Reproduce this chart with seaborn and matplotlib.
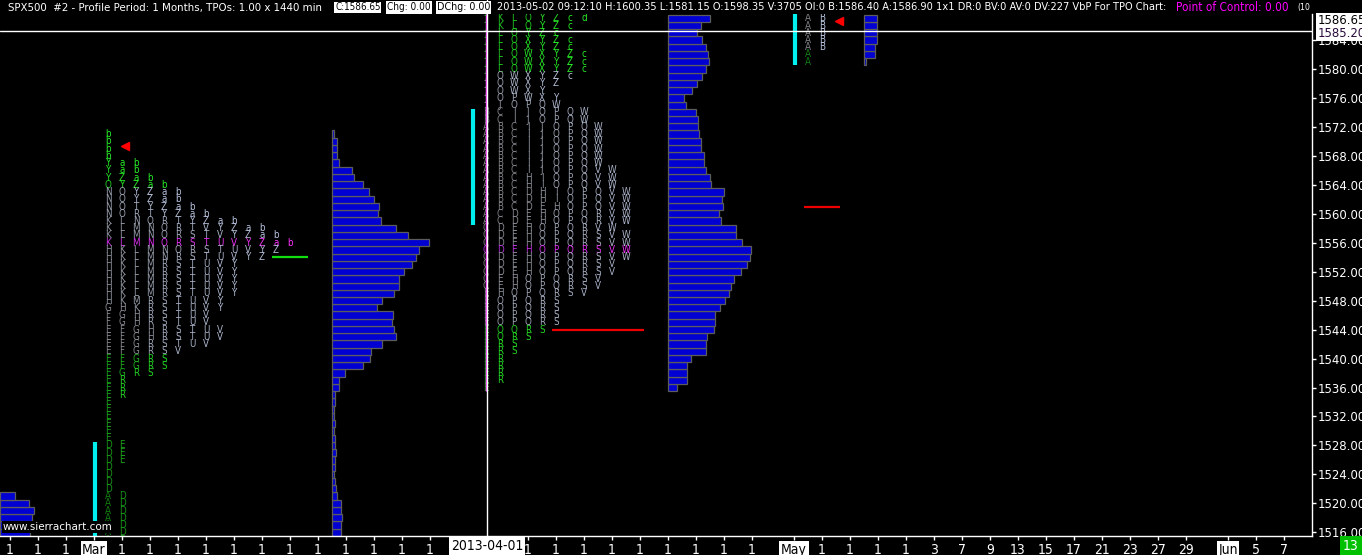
import numpy as np
import pandas as pd
import seaborn as sns
from matplotlib import pyplot as plt
from matplotlib import font_manager as fm
from matplotlib.colors import to_rgb
from matplotlib.lines import Line2D
from matplotlib.transforms import blended_transform_factory

#####################################################################################
# data

# TPO periods (one letter per trading day, letter = day of month): low / high
mar_letters = ['A', 'D', 'E', 'F', 'G', 'H', 'K', 'L', 'M', 'N', 'O', 'R', 'S', 'T', 'U', 'V', 'Y', 'Z', 'a', 'b']
mar_low = [1501, 1513, 1526, 1539, 1538, 1543, 1547, 1549, 1548, 1554, 1555, 1535, 1538, 1542, 1542, 1541, 1547, 1554, 1556, 1556]
mar_high = [1521, 1528, 1544, 1546, 1547, 1555, 1559, 1559, 1558, 1563, 1564, 1560, 1557, 1561, 1556, 1558, 1567, 1565, 1567, 1571]

apr_letters = ['A', 'B', 'C', 'D', 'E', 'H', 'I', 'J', 'K', 'L', 'O', 'P', 'Q', 'R', 'S', 'V', 'W', 'X', 'Y', 'Z', 'c', 'd']
apr_low = [1559, 1561, 1550, 1552, 1536, 1549, 1562, 1566, 1586, 1580, 1544, 1545, 1543, 1537, 1541, 1549, 1554, 1576, 1576, 1578, 1579, 1587]
apr_high = [1572, 1574, 1574, 1563, 1561, 1565, 1575, 1590, 1598, 1594, 1590, 1576, 1575, 1560, 1557, 1566, 1582, 1584, 1594, 1587, 1597, 1598]

may_letters = ['A', 'B']
may_low = [1581, 1583]
may_high = [1597, 1598]

# value area low / high and point of control (from the letter colours)
mar_va = (1541, 1563, 1556)
apr_va = (1545, 1579, 1555)
may_va = (1583, 1600, 1590)

# volume at price, top price first
feb_vp_top, feb_vp = 1521, [15, 29, 34, 32, 30, 30]
mar_vp_top = 1571
mar_vp = [2, 5, 5, 5, 7, 20, 22, 31, 37, 42, 47, 46, 49, 64, 76, 97, 87, 84, 80, 72,
          67, 67, 62, 50, 45, 61, 60, 62, 64, 50, 39, 38, 31, 13, 7, 7, 3,
          3, 2, 2, 3, 2, 3, 3, 4, 3, 3, 2, 3, 4, 5, 9, 9, 10, 9, 9]
apr_vp_top = 1587
apr_vp = [42, 33, 29, 34, 38, 40, 41, 38, 34, 29, 24, 16, 18, 28, 30, 30, 31, 33, 33, 36,
          36, 38, 42, 43, 56, 54, 55, 51, 53, 68, 68, 74, 83, 82, 79, 73, 66, 63, 61, 57,
          52, 47, 47, 46, 39, 38, 38, 23, 19, 19, 19, 9]
may_vp_top, may_vp = 1587, [13, 13, 13, 13, 11, 11, 2]

mar_close, may_close = 1569.4, 1586.65
mar_level, apr_level, may_level = 1554, 1544, 1561
cursor_price, last_price = 1585.20, 1586.65

xtick_pos = [0, 2, 4, 6, 8, 10, 12, 14, 16, 18, 20, 22, 24, 26, 28, 30,
             37, 39, 41, 43, 45, 47, 49, 51, 53,
             56, 58, 60, 62, 64, 66, 68, 70, 72, 74, 76, 78, 80, 82, 84, 87, 89, 91]
xtick_lab = ['1', '1', '1', 'Mar'] + ['1'] * 12 + ['1'] * 9 + \
            ['May', '1', '1', '1', '1', '3', '7', '9', '13', '15', '17', '21', '23', '27', '29', 'Jun', '5', '7']
ytick_vals = list(range(1516, 1588, 4))

#####################################################################################
# style

sns.set_theme(style='dark', rc={'axes.facecolor': 'black', 'figure.facecolor': 'black',
                                'savefig.facecolor': 'black'})
names = {f.name for f in fm.fontManager.ttflist}
NARROW = 'Liberation Sans Narrow' if 'Liberation Sans Narrow' in names else 'DejaVu Sans'
plt.rcParams['font.family'] = [NARROW, 'DejaVu Sans']
plt.rcParams['font.stretch'] = 'condensed'

W, H = 1362, 555
PPT = 7.24                          # pixels per price point
def px2col(px):
    return (px - 10) / 14.0

fig = plt.figure(figsize=(W / 100, H / 100), dpi=100)
ax = fig.add_axes([0, (H - 536) / H, 1312 / W, 522 / H])
y_top = 1584 + 26 / PPT
y_bot = 1584 - 496 / PPT

def mix(c0, c1, t):
    a, b = np.array(to_rgb(c0)), np.array(to_rgb(c1))
    return tuple(a + (b - a) * t)

def letter_color(p, k, n, va):
    t = k / max(n - 1, 1)
    lo, hi, poc = va
    if p == poc:
        return mix('#8a30c8', '#ff30ff', np.sqrt(t))
    if lo <= p <= hi:
        return mix('#7c7c80', '#b8c4e0', t)
    return mix('#127a12', '#28f028', np.sqrt(t))

def draw_letters(letters, lows, highs, start, va):
    counts = {}
    n = len(letters)
    for p in range(max(highs), min(lows) - 1, -1):
        col = 0
        for k, (L, lo, hi) in enumerate(zip(letters, lows, highs)):
            if lo <= p <= hi:
                if y_bot - 0.5 < p < y_top + 0.5:
                    ax.text(start + col, p, L, color=letter_color(p, k, n, va), fontsize=7.0,
                            ha='center', va='center', clip_on=True, zorder=2)
                col += 1
        counts[p] = col
    # initial balance = range of the first two periods
    ax.vlines(start - 0.93, min(lows[:2]) - 0.5, max(highs[:2]) + 0.5, color='#00f0f0', lw=3, zorder=2)
    return counts

VP_SCALE = 1 / 14.0
def draw_vp(top, vols, left):
    df = pd.DataFrame({'price': np.arange(top, top - len(vols), -1),
                       'vol': np.array(vols, float) * VP_SCALE})
    n0 = len(ax.patches)
    sns.barplot(data=df, x='vol', y='price', orient='y', native_scale=True, ax=ax,
                color='#0000d2', saturation=1, edgecolor='#5c5c5c', linewidth=0.9,
                width=1.0, errorbar=None, zorder=1)
    for patch in ax.patches[n0:]:
        patch.set_x(patch.get_x() + left)

#####################################################################################
# profiles

draw_vp(feb_vp_top, feb_vp, px2col(0))
draw_vp(mar_vp_top, mar_vp, 23)
draw_vp(apr_vp_top, apr_vp, 47)
draw_vp(may_vp_top, may_vp, 61)

mar_cnt = draw_letters(mar_letters, mar_low, mar_high, 7, mar_va)
apr_cnt = draw_letters(apr_letters, apr_low, apr_high, 34, apr_va)
may_cnt = draw_letters(may_letters, may_low, may_high, 57, may_va)

# close markers
ax.plot([7 + mar_cnt[round(mar_close)] + 0.2], [mar_close], marker='<', ms=5.5, color='red', ls='none', zorder=4)
ax.plot([57 + may_cnt[round(may_close)] + 0.2], [may_close], marker='<', ms=5.5, color='red', ls='none', zorder=4)

# level lines
ax.hlines(mar_level, 7 + mar_cnt.get(mar_level, 0) - 0.3, 7 + mar_cnt.get(mar_level, 0) + 2.3, color='#10e010', lw=1.6, zorder=3)
ax.hlines(apr_level, 34 + apr_cnt.get(apr_level, 0) - 0.3, 34 + apr_cnt.get(apr_level, 0) + 6.3, color='#ee0000', lw=1.6, zorder=3)
ax.hlines(may_level, 57 + may_cnt.get(may_level, 0) - 0.3, 57 + may_cnt.get(may_level, 0) + 2.3, color='#ee0000', lw=1.6, zorder=3)

# magenta marker line on april first column and the cursor
ax.vlines(px2col(485.5), min(apr_low) - 0.5, y_top, color='#ff40ff', lw=1, zorder=5)
ax.axhline(cursor_price, color='white', lw=1, zorder=6)
fig.add_artist(Line2D([487 / W, 487 / W], [1 - 540 / H, 1], color='white', lw=1, zorder=2))

#####################################################################################
# axes

ax.set_xlim(px2col(0), px2col(1312))
ax.set_ylim(y_bot, y_top)
ax.set_xlabel('')
ax.set_ylabel('')
ax.grid(False)
for s in ['top', 'left']:
    ax.spines[s].set_visible(False)
for s in ['right', 'bottom']:
    ax.spines[s].set_visible(True)
    ax.spines[s].set_color('white')
    ax.spines[s].set_linewidth(1)

ax.yaxis.tick_right()
ax.set_yticks(ytick_vals)
ax.set_yticklabels([f'{v:.2f}' for v in ytick_vals])
ax.set_xticks(xtick_pos)
ax.set_xticklabels(xtick_lab)
ax.tick_params(axis='both', colors='white', labelcolor='white', labelsize=10, length=3, width=1,
               direction='out', bottom=True, right=True, left=False)
ax.tick_params(axis='x', pad=2)
ax.tick_params(axis='y', labelsize=9.4, pad=1)
for lab in ax.get_xticklabels():
    if lab.get_text() in ('Mar', 'May', 'Jun'):
        lab.set_color('black')
        lab.set_bbox(dict(boxstyle='square,pad=0.12', fc='white', ec='none'))

trans = blended_transform_factory(ax.transAxes, ax.transData)
ax.text(1.004, last_price, f'{last_price:.2f}', transform=trans, fontsize=9.4, color='black',
        ha='left', va='center', clip_on=False, zorder=7,
        bbox=dict(boxstyle='square,pad=0.08', fc='white', ec='none'))
ax.text(1.004, cursor_price - 0.3, f'{cursor_price:.2f}', transform=trans, fontsize=9.4, color='#2a0a3a',
        ha='left', va='center', clip_on=False, zorder=8,
        bbox=dict(boxstyle='square,pad=0.08', fc='white', ec='none'))

fig.text(487 / W, 1 - 546 / H, '2013-04-01', ha='center', va='center', fontsize=10, color='black',
         bbox=dict(boxstyle='square,pad=0.15', fc='white', ec='none'), zorder=5)
fig.text(1351 / W, 1 - 546 / H, '13', ha='center', va='center', fontsize=10, color='white',
         bbox=dict(boxstyle='square,pad=0.2', fc='#00c000', ec='none'))

#####################################################################################
# header texts, sized to the widths they take in the chart

renderer = fig.canvas.get_renderer()
def fit_text(x0, x1, y, s, **kw):
    t = fig.text(x0 / W, 1 - y / H, s, ha='left', va='center', fontsize=10, **kw)
    w = t.get_window_extent(renderer).width
    t.set_fontsize(10 * (x1 - x0) / w)
    return t

white_box = dict(boxstyle='square,pad=0.1', fc='white', ec='none')
fit_text(8, 324, 7.5, 'SPX500  #2 - Profile Period: 1 Months, TPOs: 1.00 x 1440 min', color='white')
fit_text(335, 381, 7.5, 'C:1586.65', color='black', bbox=white_box)
fit_text(387, 431, 7.5, 'Chg: 0.00', color='black', bbox=white_box)
fit_text(437, 491, 7.5, 'DChg: 0.00', color='black', bbox=white_box)
fit_text(497, 1169, 7.5, '2013-05-02 09:12:10 H:1600.35 L:1581.15 O:1598.35 V:3705 OI:0 B:1586.40 '
         'A:1586.90 1x1 DR:0 BV:0 AV:0 DV:227 VbP For TPO Chart:', color='white')
fit_text(1176, 1288, 7.5, 'Point of Control: 0.00', color='#ff00ff')
fit_text(1297, 1310, 7.5, '(10', color='white')
fit_text(3, 112, 527, 'www.sierrachart.com', color='white',
         bbox=dict(boxstyle='square,pad=0.1', fc='black', ec='none'))

fig.savefig('out.png', dpi=100, facecolor='black')
